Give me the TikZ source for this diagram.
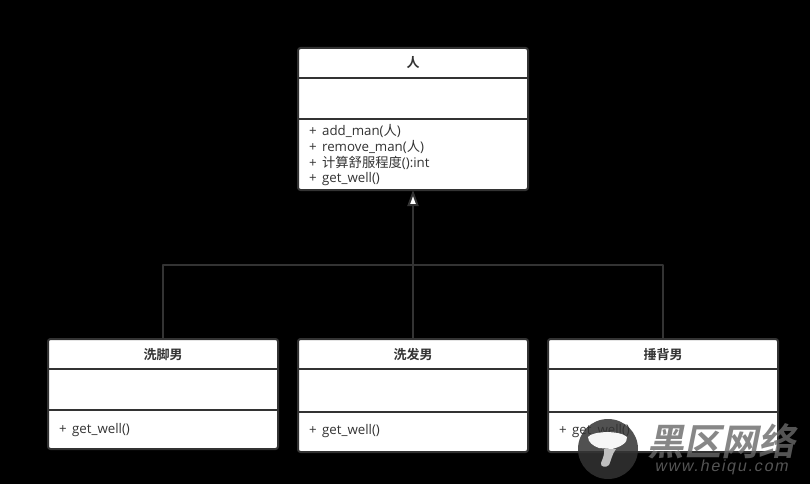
\documentclass[tikz,border=0pt]{standalone}
\usepackage{fontspec}
\setmainfont{Open Sans}
\newfontfamily\cjk{Noto Sans CJK SC}
\newfontfamily\cjkb{Noto Sans CJK SC Bold}
\newfontfamily\urlfont[LetterSpace=11]{Liberation Sans}
\usetikzlibrary{arrows.meta}
\definecolor{umlline}{HTML}{333333}
\definecolor{markgray}{HTML}{6A6A6A}
\tikzset{
  classbox/.style={draw=umlline, fill=white, line width=2pt, rounded corners=2.5pt, minimum width=230pt, outer sep=0pt, inner sep=0pt},
  classname/.style={text=umlline, font=\fontsize{13}{13}\cjkb},
  member/.style={text=umlline, anchor=west, inner sep=0pt, font=\fontsize{13.3}{13}\selectfont},
  divider/.style={draw=umlline, line width=2pt},
  link/.style={draw=umlline, line width=2pt},
}
\begin{document}
\begin{tikzpicture}[x=1pt, y=-1pt, line join=round]
 \fill[black] (0,0) rectangle (810,484);
 \useasboundingbox (0,0) rectangle (810,484);
 % parent class
 \node[classbox, minimum height=142pt] (ren) at (413,119) {};
 \node[classname] (renname) at (413,63) {人};
 \draw[divider] (298,78)--(528,78) (298,119)--(528,119);
 \node[member] (m1) at (309,131) {+\hspace{5.3pt}add\_man({\cjk 人})};
 \node[member] (m2) at (309,147) {+\hspace{5.3pt}remove\_man({\cjk 人})};
 \node[member] (m3) at (309,163) {+\hspace{5.3pt}{\cjk 计算舒服程度}():int};
 \node[member] (m4) at (309,179) {+\hspace{5.3pt}get\_well()};
 % children
 \node[classbox, minimum height=110pt] (foot) at (163,394) {};
 \node[classname] (footname) at (163,355) {洗脚男};
 \draw[divider] (48,369)--(278,369) (48,410)--(278,410);
 \node[member] (fm) at (59,430.5) {+\hspace{5.3pt}get\_well()};
 \node[classbox, minimum height=113pt] (hair) at (413,395.5) {};
 \node[classname] (hairname) at (413,355) {洗发男};
 \draw[divider] (298,369)--(528,369) (298,412)--(528,412);
 \node[member] (hm) at (309,431.5) {+\hspace{5.3pt}get\_well()};
 \node[classbox, minimum height=113pt] (back) at (663,395.5) {};
 \node[classname] (backname) at (663,355) {捶背男};
 \draw[divider] (548,369)--(778,369) (548,412)--(778,412);
 \node[member] (bm) at (559,431.5) {+\hspace{5.3pt}get\_well()};
 % generalisation
 \coordinate (bus) at (413,265);
 \draw[link] (foot.north) |- (bus);
 \draw[link] (back.north) |- (bus);
 \draw[link, -{Triangle[open, fill=white, length=16pt, width=11pt]}] (hair.north) -- (ren.south);
 % watermark
 \fill[fill=umlline, fill opacity=.85] (608,449) circle (30);
 \fill[white, opacity=.95] (588,437) .. controls (592,431) and (620,430) .. (627,437) .. controls (628,443) and (620,447) .. (612,449) -- (599,448) .. controls (593,446) and (588,442) .. (588,437) -- cycle;
 \fill[lightgray] (604,449) -- (616,449) .. controls (612,454) and (611,461) .. (609,465) .. controls (606,468) and (600,467) .. (601,463) .. controls (603,458) and (605,453) .. (604,449) -- cycle;
 \node[text=markgray, opacity=.8, xslant=.2, font=\fontsize{37}{37}\cjkb] (wm) at (724,441) {黑区网络};
 \node[text=markgray, opacity=.8, xslant=.2, font=\fontsize{16}{16}\urlfont] (wmurl) at (722,467) {www.heiqu.com};
\end{tikzpicture}
\end{document}
